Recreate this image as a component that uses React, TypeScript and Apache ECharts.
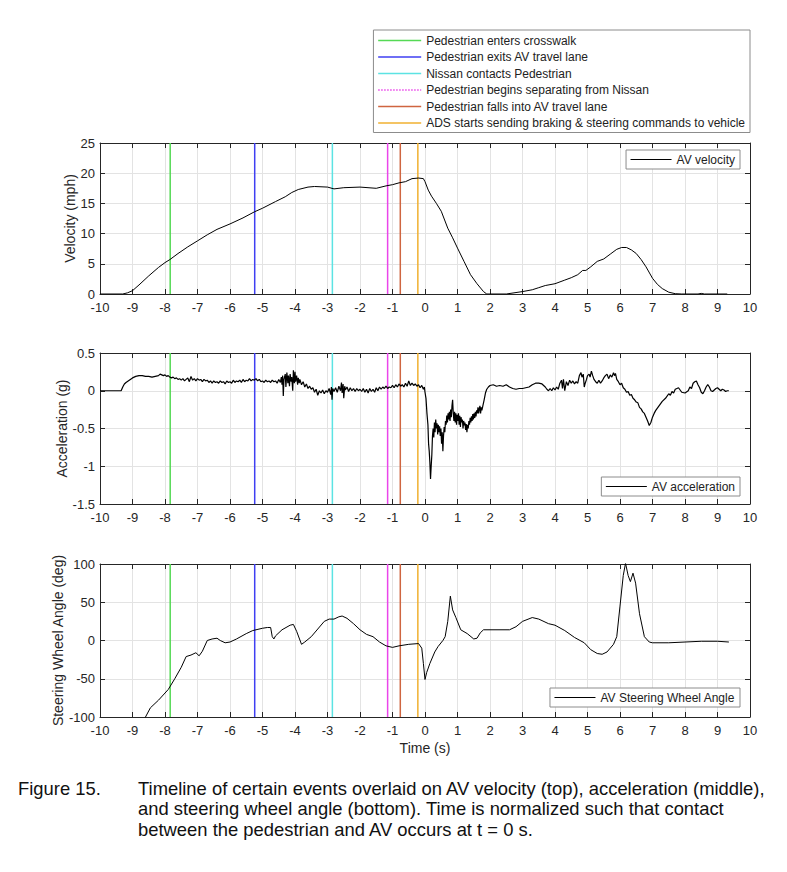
import React, { useEffect, useRef } from 'react';
import * as echarts from 'echarts';

const FONT = '"Liberation Sans", Arial, Helvetica, sans-serif';

// ---------- data ----------
const eventNames = [
  'Pedestrian enters crosswalk',
  'Pedestrian exits AV travel lane',
  'Nissan contacts Pedestrian',
  'Pedestrian begins separating from Nissan',
  'Pedestrian falls into AV travel lane',
  'ADS starts sending braking & steering commands to vehicle',
];
const eventTimes = [-7.84, -5.24, -2.85, -1.15, -0.76, -0.22];
const eventColors = ['#55d955', '#3f3ff2', '#5ce3e3', '#ea45ea', '#cf6540', '#f0b030'];

const timeTicks = { min: -10, max: 10, step: 1 };
const velocityTicks = { min: 0, max: 25, step: 5 };
const accelerationTicks = { min: -1.5, max: 0.5, step: 0.5 };
const steeringTicks = { min: -100, max: 100, step: 50 };

const velocityPoints: [number, number][] = [
  [-10, 0], [-9.3, 0], [-9.15, 0.2], [-9.0, 0.55], [-8.8, 1.5], [-8.5, 3.0], [-8.2, 4.4], [-8.0, 5.2], [-7.85, 5.7],
  [-7.6, 6.7], [-7.3, 7.8], [-7.0, 8.8], [-6.7, 9.8], [-6.4, 10.7], [-6.0, 11.6], [-5.6, 12.6], [-5.25, 13.6],
  [-5.0, 14.2], [-4.6, 15.3], [-4.3, 16.1], [-4.1, 16.8], [-3.9, 17.3], [-3.6, 17.7], [-3.4, 17.8], [-3.0, 17.7],
  [-2.8, 17.4], [-2.5, 17.6], [-2.0, 17.7], [-1.5, 17.5], [-1.2, 17.9], [-1.0, 18.1], [-0.8, 18.4], [-0.6, 18.6],
  [-0.4, 19.1], [-0.2, 19.2], [-0.05, 19.1], [0.0, 18.6], [0.1, 17.2], [0.2, 16.2], [0.35, 15.0], [0.5, 13.7],
  [0.7, 10.9], [0.85, 9.3], [1.0, 7.6], [1.2, 5.4], [1.4, 3.2], [1.6, 1.7], [1.8, 0.4], [1.9, 0], [2.5, 0],
  [3.0, 0.4], [3.3, 0.7], [3.5, 1.05], [3.7, 1.4], [4.0, 1.7], [4.3, 2.3], [4.5, 2.7], [4.7, 3.2], [4.85, 3.9],
  [4.95, 3.9], [5.1, 4.5], [5.3, 5.4], [5.5, 5.8], [5.7, 6.6], [5.9, 7.4], [6.05, 7.7], [6.2, 7.7], [6.35, 7.3],
  [6.5, 6.7], [6.65, 5.7], [6.8, 4.5], [7.0, 2.6], [7.15, 1.6], [7.3, 0.9], [7.5, 0.3], [7.7, 0.05], [7.9, 0],
  [8.4, 0], [8.5, 0.1], [8.6, 0], [9.3, 0],
];

const accelerationPoints: [number, number][] = [
  [-10, 0], [-9.35, 0], [-9.3, 0.05], [-9.25, 0.09], [-9.2, 0.11], [-9.1, 0.14], [-9.0, 0.17], [-8.9, 0.19],
  [-8.8, 0.2], [-8.7, 0.2], [-8.6, 0.19], [-8.5, 0.19], [-8.4, 0.18], [-8.3, 0.19], [-8.2, 0.2], [-8.15, 0.22],
  [-8.1, 0.21], [-8.05, 0.2], [-8.0, 0.21], [-7.95, 0.19], [-7.9, 0.2], [-7.85, 0.18], [-7.8, 0.17], [-7.75, 0.18],
  [-7.7, 0.16], [-7.65, 0.17], [-7.6, 0.15], [-7.55, 0.16], [-7.5, 0.14], [-7.45, 0.16], [-7.4, 0.13], [-7.35, 0.15],
  [-7.3, 0.17], [-7.25, 0.12], [-7.2, 0.19], [-7.15, 0.14], [-7.1, 0.16], [-7.05, 0.13], [-7.0, 0.16], [-6.95, 0.14],
  [-6.9, 0.15], [-6.85, 0.12], [-6.8, 0.15], [-6.75, 0.13], [-6.7, 0.14], [-6.65, 0.11], [-6.6, 0.13], [-6.55, 0.1],
  [-6.5, 0.13], [-6.45, 0.11], [-6.4, 0.12], [-6.35, 0.1], [-6.3, 0.13], [-6.25, 0.11], [-6.2, 0.12], [-6.15, 0.09],
  [-6.1, 0.13], [-6.05, 0.11], [-6.0, 0.12], [-5.95, 0.1], [-5.9, 0.14], [-5.85, 0.11], [-5.8, 0.13], [-5.75, 0.12],
  [-5.7, 0.14], [-5.65, 0.11], [-5.6, 0.15], [-5.55, 0.12], [-5.5, 0.14], [-5.45, 0.13], [-5.4, 0.16], [-5.35, 0.13],
  [-5.3, 0.15], [-5.25, 0.14], [-5.2, 0.16], [-5.15, 0.13], [-5.1, 0.15], [-5.05, 0.12], [-5.0, 0.13], [-4.95, 0.11],
  [-4.9, 0.14], [-4.85, 0.12], [-4.8, 0.13], [-4.75, 0.11], [-4.7, 0.14], [-4.65, 0.12], [-4.6, 0.13], [-4.55, 0.1],
  [-4.5, 0.15], [-4.45, 0.11], [-4.42, 0.18], [-4.4, 0.08], [-4.38, 0.2], [-4.36, -0.07], [-4.34, 0.15], [-4.3, 0.22],
  [-4.28, 0.05], [-4.25, 0.24], [-4.22, 0.1], [-4.2, 0.2], [-4.17, 0.06], [-4.15, 0.22], [-4.12, 0.12], [-4.1, 0.18],
  [-4.07, 0.0], [-4.05, 0.27], [-4.02, 0.1], [-4.0, 0.25], [-3.98, 0.12], [-3.95, 0.2], [-3.92, 0.08], [-3.9, 0.17],
  [-3.87, 0.1], [-3.85, 0.15], [-3.8, 0.08], [-3.75, 0.12], [-3.7, 0.05], [-3.65, 0.09], [-3.6, 0.03], [-3.55, 0.06],
  [-3.5, 0.02], [-3.45, 0.04], [-3.4, -0.02], [-3.35, 0.02], [-3.3, -0.06], [-3.25, 0.0], [-3.2, -0.03], [-3.15, 0.01],
  [-3.1, -0.04], [-3.05, 0.0], [-3.0, -0.02], [-2.95, 0.03], [-2.9, -0.05], [-2.88, 0.05], [-2.86, -0.12], [-2.84, 0.03],
  [-2.8, -0.01], [-2.75, 0.04], [-2.7, -0.02], [-2.65, 0.06], [-2.6, 0.0], [-2.57, 0.11], [-2.55, -0.03], [-2.52, 0.09],
  [-2.5, -0.1], [-2.47, 0.06], [-2.45, 0.01], [-2.4, 0.05], [-2.35, -0.01], [-2.3, 0.04], [-2.25, 0.0], [-2.2, 0.03],
  [-2.15, -0.01], [-2.1, 0.03], [-2.05, 0.0], [-2.0, 0.02], [-1.95, -0.01], [-1.9, 0.03], [-1.85, -0.02], [-1.8, 0.02],
  [-1.75, -0.03], [-1.7, 0.03], [-1.65, -0.01], [-1.6, 0.02], [-1.55, -0.02], [-1.5, 0.04], [-1.45, 0.0], [-1.4, 0.05],
  [-1.35, 0.02], [-1.3, 0.05], [-1.25, 0.03], [-1.2, 0.06], [-1.15, 0.03], [-1.1, 0.05], [-1.05, 0.04], [-1.0, 0.07],
  [-0.95, 0.04], [-0.9, 0.08], [-0.85, 0.05], [-0.8, 0.09], [-0.75, 0.06], [-0.7, 0.08], [-0.65, 0.05], [-0.6, 0.1],
  [-0.55, 0.06], [-0.5, 0.13], [-0.45, 0.07], [-0.4, 0.1], [-0.35, 0.07], [-0.3, 0.09], [-0.25, 0.06], [-0.2, 0.08],
  [-0.15, 0.04], [-0.1, 0.07], [-0.05, 0.02], [-0.02, 0.05], [0.0, -0.02], [0.03, -0.1], [0.06, -0.3], [0.09, -0.45],
  [0.11, -0.7], [0.13, -0.8], [0.15, -0.95], [0.17, -1.17], [0.19, -1.0], [0.21, -0.85], [0.23, -0.6], [0.25, -0.5],
  [0.27, -0.62], [0.29, -0.42], [0.31, -0.55], [0.33, -0.38], [0.35, -0.5], [0.37, -0.43], [0.39, -0.58], [0.41, -0.45],
  [0.43, -0.55], [0.45, -0.47], [0.47, -0.6], [0.49, -0.5], [0.51, -0.7], [0.53, -0.55], [0.55, -0.8], [0.57, -0.6],
  [0.59, -0.48], [0.61, -0.55], [0.63, -0.4], [0.65, -0.45], [0.67, -0.33], [0.69, -0.42], [0.71, -0.3], [0.73, -0.38],
  [0.75, -0.28], [0.77, -0.4], [0.79, -0.25], [0.81, -0.35], [0.83, -0.2], [0.85, -0.12], [0.87, -0.3], [0.89, -0.4],
  [0.91, -0.28], [0.93, -0.42], [0.95, -0.3], [0.97, -0.45], [0.99, -0.32], [1.01, -0.4], [1.03, -0.3], [1.05, -0.45],
  [1.07, -0.33], [1.09, -0.48], [1.11, -0.35], [1.13, -0.42], [1.15, -0.38], [1.17, -0.5], [1.19, -0.4], [1.21, -0.46],
  [1.23, -0.42], [1.25, -0.52], [1.27, -0.44], [1.29, -0.55], [1.31, -0.45], [1.33, -0.5], [1.35, -0.4], [1.37, -0.45],
  [1.39, -0.36], [1.41, -0.42], [1.43, -0.34], [1.45, -0.4], [1.47, -0.31], [1.49, -0.38], [1.51, -0.3], [1.53, -0.36],
  [1.55, -0.28], [1.57, -0.34], [1.59, -0.26], [1.61, -0.3], [1.63, -0.22], [1.65, -0.3], [1.67, -0.24], [1.69, -0.2],
  [1.71, -0.3], [1.73, -0.22], [1.75, -0.26], [1.78, -0.2], [1.82, -0.12], [1.86, -0.03], [1.9, 0.02], [1.95, 0.05],
  [2.0, 0.07], [2.1, 0.08], [2.2, 0.06], [2.3, 0.07], [2.4, 0.06], [2.5, 0.08], [2.6, 0.05], [2.7, 0.03], [2.8, 0.02],
  [2.9, 0.03], [3.0, 0.03], [3.1, 0.04], [3.2, 0.05], [3.3, 0.08], [3.4, 0.1], [3.5, 0.1], [3.6, 0.09], [3.7, 0.05],
  [3.75, 0.02], [3.8, 0.0], [3.85, 0.03], [3.9, 0.0], [3.95, 0.04], [4.0, 0.01], [4.05, 0.05], [4.1, 0.02], [4.15, 0.1],
  [4.2, 0.14], [4.23, 0.03], [4.26, 0.15], [4.3, 0.0], [4.35, 0.12], [4.4, 0.07], [4.45, 0.14], [4.5, 0.1], [4.55, 0.13],
  [4.6, 0.09], [4.65, 0.12], [4.7, 0.1], [4.75, 0.2], [4.8, 0.24], [4.83, 0.18], [4.87, 0.22], [4.9, 0.05], [4.93, 0.1],
  [4.97, 0.15], [5.0, 0.2], [5.05, 0.22], [5.08, 0.18], [5.12, 0.26], [5.16, 0.2], [5.2, 0.15], [5.25, 0.12], [5.3, 0.1],
  [5.35, 0.14], [5.4, 0.1], [5.45, 0.13], [5.5, 0.17], [5.55, 0.2], [5.6, 0.22], [5.65, 0.16], [5.7, 0.21], [5.75, 0.18],
  [5.8, 0.24], [5.83, 0.2], [5.86, 0.23], [5.9, 0.15], [5.95, 0.12], [6.0, 0.08], [6.05, 0.1], [6.1, 0.04], [6.15, 0.02],
  [6.2, -0.02], [6.25, -0.01], [6.3, -0.06], [6.35, -0.05], [6.4, -0.1], [6.45, -0.12], [6.5, -0.15], [6.55, -0.16],
  [6.6, -0.22], [6.65, -0.24], [6.7, -0.28], [6.75, -0.3], [6.8, -0.35], [6.85, -0.4], [6.9, -0.46], [6.95, -0.42],
  [7.0, -0.35], [7.05, -0.3], [7.1, -0.26], [7.2, -0.2], [7.3, -0.14], [7.4, -0.1], [7.5, -0.04], [7.55, -0.06],
  [7.6, -0.01], [7.65, -0.03], [7.7, 0.02], [7.8, 0.04], [7.9, -0.02], [8.0, -0.03], [8.1, 0.0], [8.15, 0.05],
  [8.2, 0.03], [8.25, 0.1], [8.3, 0.12], [8.35, 0.13], [8.4, 0.08], [8.45, 0.04], [8.5, -0.02], [8.55, -0.04],
  [8.6, 0.0], [8.65, 0.05], [8.7, 0.08], [8.75, 0.05], [8.8, 0.0], [8.85, -0.01], [8.9, 0.01], [8.95, 0.03],
  [9.0, 0.04], [9.05, 0.02], [9.1, 0.0], [9.15, 0.02], [9.2, 0.01], [9.25, -0.01], [9.3, 0.0], [9.35, 0.0],
];

const steeringPoints: [number, number][] = [
  [-8.7, -106], [-8.6, -100], [-8.45, -88], [-8.2, -78], [-7.9, -64], [-7.7, -50], [-7.5, -35], [-7.35, -21],
  [-7.2, -19], [-7.05, -16], [-6.95, -20], [-6.85, -14], [-6.7, 0], [-6.55, 2], [-6.4, 3], [-6.3, 0], [-6.15, -3],
  [-6.0, -2], [-5.8, 2], [-5.5, 9], [-5.3, 13], [-5.0, 16], [-4.85, 17], [-4.75, 17], [-4.7, 5], [-4.65, 2],
  [-4.6, 6], [-4.4, 14], [-4.15, 20], [-4.05, 21], [-3.95, 12], [-3.8, -5], [-3.7, -2], [-3.5, 5], [-3.3, 15],
  [-3.1, 25], [-2.95, 28], [-2.8, 28], [-2.65, 31], [-2.55, 32], [-2.4, 29], [-2.2, 22], [-2.0, 14], [-1.8, 8],
  [-1.6, 5], [-1.4, -2], [-1.2, -7], [-1.0, -9], [-0.8, -7], [-0.5, -5], [-0.2, -4], [-0.1, -10], [-0.05, -30],
  [0.0, -51], [0.05, -42], [0.15, -30], [0.3, -15], [0.4, -8], [0.55, 0], [0.62, 5], [0.7, 25], [0.78, 58],
  [0.85, 40], [0.95, 30], [1.1, 14], [1.3, 9], [1.5, 2], [1.6, 3], [1.7, 10], [1.8, 14], [2.0, 14], [2.6, 14],
  [2.8, 18], [3.0, 25], [3.3, 30], [3.5, 28], [3.8, 22], [4.0, 20], [4.3, 13], [4.6, 4], [4.9, -3], [5.1, -12],
  [5.3, -17], [5.45, -18], [5.6, -15], [5.8, -5], [5.9, 5], [6.0, 45], [6.1, 85], [6.17, 101], [6.25, 85],
  [6.32, 77], [6.4, 88], [6.48, 75], [6.6, 35], [6.75, 5], [6.9, -2], [7.0, -3], [7.5, -3], [8.0, -2], [8.5, -1],
  [9.0, -1], [9.35, -2],
];

const panelNames = ['AV velocity', 'AV acceleration', 'AV Steering Wheel Angle'];
const axisTitles = ['Velocity (mph)', 'Acceleration (g)', 'Steering Wheel Angle (deg)'];
const captionLabel = 'Figure 15.';
const captionLines = [
  'Timeline of certain events overlaid on AV velocity (top), acceleration (middle),',
  'and steering wheel angle (bottom). Time is normalized such that contact',
  'between the pedestrian and AV occurs at t = 0 s.',
];

// ---------- layout / style ----------
const AXIS_COLOR = '#262626';
const GRID_COLOR = '#e3e3e3';
const grids = [
  { left: 100, right: 37, top: 143, height: 151 },
  { left: 100, right: 37, top: 353, height: 151 },
  { left: 100, right: 37, top: 564, height: 153 },
];
const yRanges = [velocityTicks, accelerationTicks, steeringTicks];
const nameGaps = [23, 31, 35];
const dataLineWidths = [1, 1.2, 1];

function buildOption() {
  const xAxis: any[] = [];
  const yAxis: any[] = [];
  grids.forEach((_, i) => {
    xAxis.push({
      type: 'value', gridIndex: i, min: timeTicks.min, max: timeTicks.max, interval: timeTicks.step,
      position: 'bottom',
      axisLine: { show: true, onZero: false, lineStyle: { color: AXIS_COLOR, width: 1 } },
      axisTick: { show: true, inside: true, length: 5, lineStyle: { color: AXIS_COLOR } },
      axisLabel: { show: true, margin: 7, fontSize: 13, color: AXIS_COLOR, fontFamily: FONT, showMinLabel: true, showMaxLabel: true },
      splitLine: { show: true, lineStyle: { color: GRID_COLOR, width: 1 } },
      name: i === 2 ? 'Time (s)' : '',
      nameLocation: 'middle', nameGap: 24, nameMoveOverlap: false,
      nameTextStyle: { fontSize: 14, color: AXIS_COLOR, fontFamily: FONT },
    });
    const yr = yRanges[i];
    yAxis.push({
      type: 'value', gridIndex: i, min: yr.min, max: yr.max, interval: yr.step,
      position: 'left',
      axisLine: { show: true, onZero: false, lineStyle: { color: AXIS_COLOR, width: 1 } },
      axisTick: { show: true, inside: true, length: 5, lineStyle: { color: AXIS_COLOR } },
      axisLabel: { show: true, margin: 5, fontSize: 13, color: AXIS_COLOR, fontFamily: FONT, showMinLabel: true, showMaxLabel: true },
      splitLine: { show: true, lineStyle: { color: GRID_COLOR, width: 1 } },
      name: axisTitles[i], nameLocation: 'middle', nameGap: nameGaps[i], nameMoveOverlap: false,
      nameTextStyle: { fontSize: 14, color: AXIS_COLOR, fontFamily: FONT },
    });
  });
  grids.forEach((_, i) => {
    xAxis.push({
      type: 'value', gridIndex: i, min: timeTicks.min, max: timeTicks.max, interval: timeTicks.step,
      position: 'top',
      axisLine: { show: true, onZero: false, lineStyle: { color: AXIS_COLOR, width: 1 } },
      axisTick: { show: true, inside: true, length: 5, lineStyle: { color: AXIS_COLOR } },
      axisLabel: { show: false }, splitLine: { show: false },
    });
    const yr = yRanges[i];
    yAxis.push({
      type: 'value', gridIndex: i, min: yr.min, max: yr.max, interval: yr.step,
      position: 'right',
      axisLine: { show: true, onZero: false, lineStyle: { color: AXIS_COLOR, width: 1 } },
      axisTick: { show: true, inside: true, length: 5, lineStyle: { color: AXIS_COLOR } },
      axisLabel: { show: false }, splitLine: { show: false },
    });
  });

  const series: any[] = [];
  grids.forEach((_, i) => {
    const yr = yRanges[i];
    eventTimes.forEach((t, k) => {
      series.push({
        type: 'line', name: eventNames[k], xAxisIndex: i, yAxisIndex: i,
        data: [[t, yr.min], [t, yr.max]], symbol: 'none', silent: true, z: 1,
        lineStyle: { color: eventColors[k], width: 1.5 }, itemStyle: { color: eventColors[k] },
      });
    });
  });
  const dataSets = [velocityPoints, accelerationPoints, steeringPoints];
  dataSets.forEach((d, i) => {
    series.push({
      type: 'line', name: panelNames[i], xAxisIndex: i, yAxisIndex: i, data: d,
      symbol: 'none', silent: true, z: 3, clip: true,
      lineStyle: { color: '#000', width: dataLineWidths[i] }, itemStyle: { color: '#000' },
    });
  });

  const legendText = { fontSize: 12, color: '#222', fontFamily: FONT, lineHeight: 13 };
  const hiddenSymbol = { opacity: 0, borderWidth: 0 };
  const legend: any[] = [
    {
      orient: 'vertical', right: 37, top: 30, itemWidth: 43, itemHeight: 10, itemGap: 3.5,
      padding: [4, 5, 3, 4], borderColor: '#8c8c8c', borderWidth: 1, backgroundColor: '#fff',
      selectedMode: false, textStyle: legendText, itemStyle: hiddenSymbol, lineStyle: { width: 1.5 },
      data: eventNames.map((n, k) => (k === 3 ? { name: n, lineStyle: { type: 'dotted', width: 1.5 } } : { name: n })),
    },
    { right: 47, top: 150 }, { right: 47, top: 477 }, { right: 47, top: 688 },
  ];
  for (let i = 1; i <= 3; i++) {
    Object.assign(legend[i], {
      orient: 'horizontal', itemWidth: 41, itemHeight: 10, padding: [3, 5, 3, 4],
      borderColor: '#8c8c8c', borderWidth: 1, backgroundColor: '#fff', selectedMode: false,
      textStyle: legendText, itemStyle: hiddenSymbol, lineStyle: { width: 1 }, data: [panelNames[i - 1]],
    });
  }

  const captionFont = `18.4px ${FONT}`;
  return {
    animation: false,
    backgroundColor: '#fff',
    grid: grids.map((g) => ({ ...g, containLabel: false })),
    xAxis, yAxis, series, legend,
    graphic: [
      { type: 'text', left: 18, top: 778, style: { text: captionLabel, font: captionFont, fill: '#111', lineHeight: 20.5 } },
      {
        type: 'text', left: 138, top: 778,
        style: { text: captionLines.join('\n'), font: captionFont, lineHeight: 20.5, fill: '#111' },
      },
    ],
  };
}

export default function App() {
  const ref = useRef<HTMLDivElement>(null);
  useEffect(() => {
    if (!ref.current) return;
    const chart = echarts.init(ref.current, undefined, { renderer: 'svg' });
    chart.setOption(buildOption() as any);
    return () => chart.dispose();
  }, []);
  return (
    <div
      ref={ref}
      style={{ position: 'absolute', left: 0, top: 0, width: 787, height: 872, background: '#fff' }}
    />
  );
}
